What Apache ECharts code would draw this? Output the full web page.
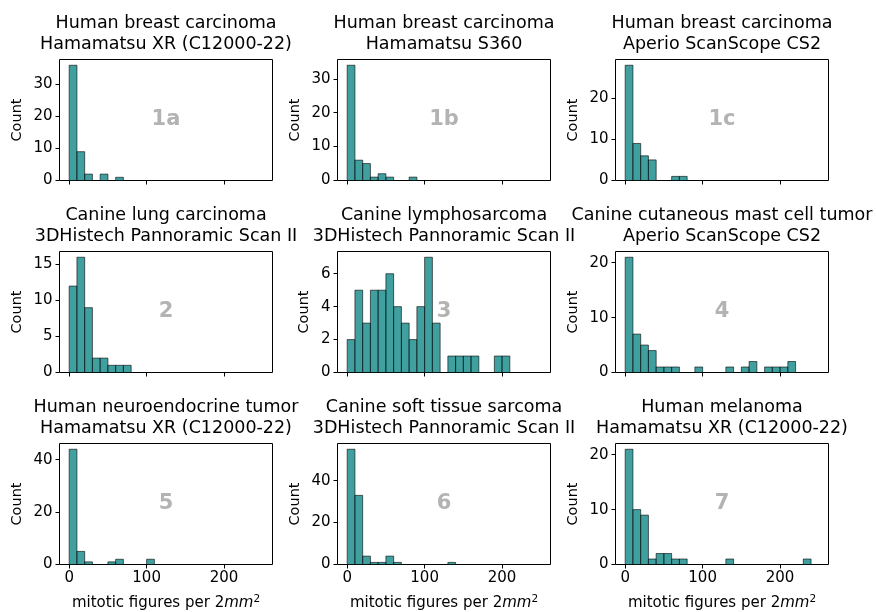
<!DOCTYPE html>
<html><head><meta charset="utf-8">
<script src="https://cdn.jsdelivr.net/npm/echarts@6/dist/echarts.min.js"></script>
<style>html,body{margin:0;padding:0;background:#fff}#c{width:876px;height:612px}</style>
</head><body><div id="c"></div><script>
// ---- data ----
const BIN = 10;               // bin width (mitotic figures per 2mm^2), bins start at 0
const X_MIN = -12.5, X_MAX = 262.5;
const xTicks = [0, 100, 200];
const titles = [
  ['Human breast carcinoma', 'Hamamatsu XR (C12000-22)'],
  ['Human breast carcinoma', 'Hamamatsu S360'],
  ['Human breast carcinoma', 'Aperio ScanScope CS2'],
  ['Canine lung carcinoma', '3DHistech Pannoramic Scan II'],
  ['Canine lymphosarcoma', '3DHistech Pannoramic Scan II'],
  ['Canine cutaneous mast cell tumor', 'Aperio ScanScope CS2'],
  ['Human neuroendocrine tumor', 'Hamamatsu XR (C12000-22)'],
  ['Canine soft tissue sarcoma', '3DHistech Pannoramic Scan II'],
  ['Human melanoma', 'Hamamatsu XR (C12000-22)']
];
const panelLabels = ['1a', '1b', '1c', '2', '3', '4', '5', '6', '7'];
const counts1a = [36, 9, 2, 0, 2, 0, 1];
const counts1b = [34, 6, 5, 1, 2, 1, 0, 0, 1];
const counts1c = [28, 9, 6, 5, 0, 0, 1, 1];
const counts2  = [12, 16, 9, 2, 2, 1, 1, 1];
const counts3  = [2, 5, 3, 5, 5, 6, 4, 3, 2, 4, 7, 3, 0, 1, 1, 1, 1, 0, 0, 1, 1];
const counts4  = [21, 7, 5, 4, 1, 1, 1, 0, 0, 1, 0, 0, 0, 1, 0, 1, 2, 0, 1, 1, 1, 2];
const counts5  = [44, 5, 1, 0, 0, 1, 2, 0, 0, 0, 2];
const counts6  = [55, 33, 4, 1, 1, 4, 1, 0, 0, 0, 0, 0, 0, 1];
const counts7  = [21, 10, 9, 1, 2, 2, 1, 1, 0, 0, 0, 0, 0, 1, 0, 0, 0, 0, 0, 0, 0, 0, 0, 1];
const allCounts = [counts1a, counts1b, counts1c, counts2, counts3, counts4, counts5, counts6, counts7];
const yTicks = [
  [0, 10, 20, 30], [0, 10, 20, 30], [0, 10, 20],
  [0, 5, 10, 15], [0, 2, 4, 6], [0, 10, 20],
  [0, 20, 40], [0, 20, 40], [0, 10, 20]
];
const xLabelText = '{a|mitotic figures per 2}{b|mm}{c|2}';

// ---- layout ----
const FONT = 'DejaVu Sans';
const COL_LEFT = [59.5, 337.5, 615.5];
const ROW_TOP = [59.5, 251.5, 443.5];
const GW = 213, GH = 121;

const grids = [], xAxes = [], yAxes = [], series = [], titleComps = [], graphics = [];
for (let i = 0; i < 9; i++) {
  const r = Math.floor(i / 3), c = i % 3;
  const left = COL_LEFT[c], top = ROW_TOP[r];
  grids.push({left: left, top: top, width: GW, height: GH, show: true,
    borderColor: '#000', borderWidth: 1, backgroundColor: 'transparent', containLabel: false});
  const bottomRow = r === 2;
  xAxes.push({
    type: 'value', gridIndex: i, min: X_MIN, max: X_MAX,
    axisLine: {show: false, onZero: false}, splitLine: {show: false},
    axisTick: {show: true, length: 4, customValues: xTicks, lineStyle: {color: '#000', width: 1}},
    axisLabel: {show: bottomRow, customValues: xTicks, margin: 6, fontFamily: FONT, fontSize: 15, color: '#000'},
    name: bottomRow ? xLabelText : '', nameLocation: 'middle', nameGap: 29,
    nameTextStyle: {fontFamily: FONT, color: '#000', rich: {
      a: {fontFamily: FONT, fontSize: 15, color: '#000', lineHeight: 19},
      b: {fontFamily: FONT, fontSize: 15, fontStyle: 'italic', color: '#000', lineHeight: 19},
      c: {fontFamily: FONT, fontSize: 10.5, color: '#000', verticalAlign: 'top', lineHeight: 10}
    }}
  });
  const counts = allCounts[i];
  const ymax = Math.max(...counts) * 1.05;
  yAxes.push({
    type: 'value', gridIndex: i, min: 0, max: ymax,
    axisLine: {show: false, onZero: false}, splitLine: {show: false},
    axisTick: {show: true, length: 4, customValues: yTicks[i], lineStyle: {color: '#000', width: 1}},
    axisLabel: {customValues: yTicks[i], margin: 7, fontFamily: FONT, fontSize: 15, color: '#000'},
    name: 'Count', nameLocation: 'middle', nameRotate: 90, nameGap: (i === 4 ? 26 : 35),
    nameTextStyle: {fontFamily: FONT, fontSize: 14.5, color: '#000'}
  });
  series.push({
    type: 'custom', xAxisIndex: i, yAxisIndex: i,
    data: counts.map((v, k) => [k * BIN, (k + 1) * BIN, v]).filter(d => d[2] > 0),
    encode: {x: [0, 1], y: 2},
    renderItem: function (params, api) {
      const p0 = api.coord([api.value(0), api.value(2)]);
      const p1 = api.coord([api.value(1), 0]);
      return {type: 'rect', shape: {x: p0[0], y: p0[1], width: p1[0] - p0[0], height: p1[1] - p0[1]},
        style: {fill: 'rgba(0,128,128,0.75)', stroke: 'rgba(0,0,0,0.75)', lineWidth: 0.8}};
    },
    z: 1
  });
  titleComps.push({
    text: titles[i].join('\n'), left: left + GW / 2, top: top - 46.5, textAlign: 'center', padding: 0,
    textStyle: {fontFamily: FONT, fontSize: 17.5, fontWeight: 'normal', color: '#000', lineHeight: 21}
  });
  graphics.push({
    type: 'text', x: left + GW / 2, y: top + GH / 2, z: 10,
    style: {text: panelLabels[i], align: 'center', verticalAlign: 'middle',
      font: 'bold 21px "DejaVu Sans"', fill: '#b3b3b3'}
  });
}

const chart = echarts.init(document.getElementById('c'), null, {renderer: 'canvas'});
chart.setOption({
  animation: false,
  backgroundColor: '#fff',
  title: titleComps,
  grid: grids, xAxis: xAxes, yAxis: yAxes, series: series,
  graphic: graphics
});
</script></body></html>
